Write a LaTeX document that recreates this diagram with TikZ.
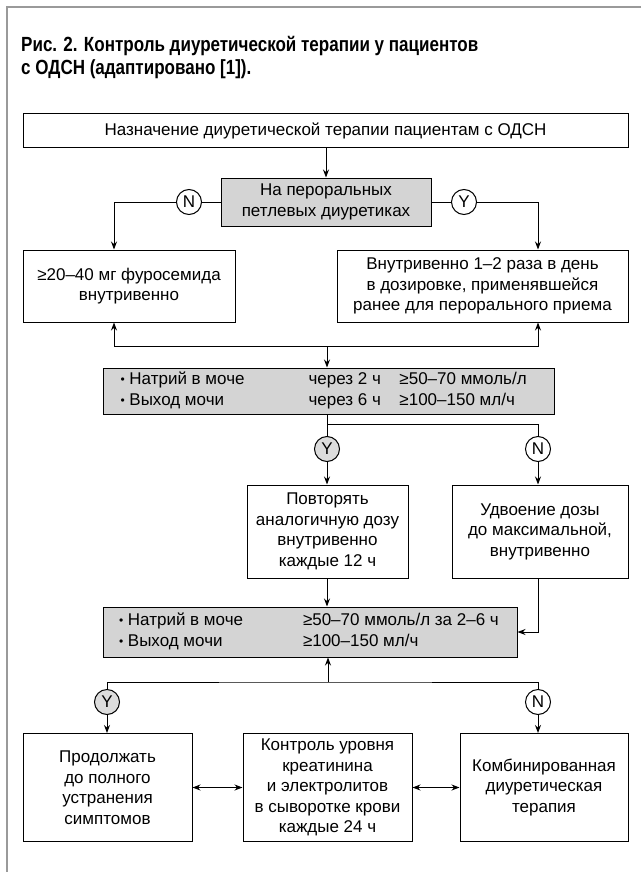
\documentclass[tikz,border=0pt]{standalone}
\usepackage{fontspec}
\setmainfont{Liberation Sans}
\newfontfamily\titlefont{Liberation Sans Bold}[FakeStretch=0.83]
\usepackage{array}
\usetikzlibrary{arrows.meta,calc}
\definecolor{boxgray}{HTML}{D4D4D4}
\definecolor{circgray}{HTML}{DCDCDC}
\definecolor{framegray}{HTML}{9A9A9A}
\tikzset{
  block/.style={
    draw,
    line width=1pt,
    inner sep=2pt,
    align=center,
    font=\fontsize{17}{20.5}\selectfont
  },
  blockgray/.style={
    block,
    fill=boxgray
  },
  yesno/.style={
    shape=circle,
    draw,
    fill=white,
    line width=1pt,
    minimum size=25pt,
    inner sep=0pt,
    font=\fontsize{17}{17}\selectfont
  },
  yesgray/.style={
    yesno,
    fill=circgray
  },
  flow/.style={
    line width=1pt,
    -{Stealth[length=8pt,width=6pt]}
  },
  flowboth/.style={
    line width=1pt,
    {Stealth[length=8pt,width=6pt]}-{Stealth[length=8pt,width=6pt]}
  },
  link/.style={
    line width=1pt
  }
}
\newcommand{\dotitem}{{\fontsize{12}{12}\selectfont\raisebox{1pt}{•}}\ }

\begin{document}
\begin{tikzpicture}[x=1pt,y=-1pt]
  \useasboundingbox (0,0) rectangle (641,872);
  % frame and title
  \draw[framegray, line width=1.5pt] (641,7) -- (7,7) -- (7,872);
  \node[anchor=base west, inner sep=0pt, align=left,
        font=\titlefont\fontsize{20.5}{23}\selectfont] (title) at (21,75)
    {Рис. 2. Контроль диуретической терапии у пациентов\\
     с ОДСН (адаптировано [1]).};

  % first level
  \node[block, minimum width=605pt, minimum height=33pt] (start) at (325.5,130.5)
    {Назначение диуретической терапии пациентам с ОДСН};
  \node[blockgray, minimum width=210pt, minimum height=48pt] (oral) at (326,202)
    {На пероральных\\петлевых диуретиках};
  \node[yesno] (nA) at (189,202) {N};
  \node[yesno] (yA) at (464,202) {Y};
  \node[block, minimum width=212pt, minimum height=72pt] (furo) at (129,286)
    {≥20–40 мг фуросемида\\внутривенно};
  \node[block, minimum width=291pt, minimum height=72pt] (ivdose) at (482.5,286)
    {Внутривенно 1–2 раза в день\\в дозировке, применявшейся\\ранее для перорального приема};
  \coordinate (join1) at (327,346);

  % second level
  \node[blockgray, minimum width=451pt, minimum height=46pt] (check1) at (328.5,391)
    {\begin{tabular}{@{}p{188pt}@{}p{91pt}@{}p{137pt}@{}}
       \dotitem Натрий в моче & через 2 ч & ≥50–70 ммоль/л\\
       \dotitem Выход мочи & через 6 ч & ≥100–150 мл/ч
     \end{tabular}};
  \coordinate (split2) at (327,424);
  \node[yesgray] (yB) at (327,449) {Y};
  \node[yesno] (nB) at (538,449) {N};
  \node[block, minimum width=161pt, minimum height=93pt] (repeat) at (327.5,531.5)
    {Повторять\\аналогичную дозу\\внутривенно\\каждые 12 ч};
  \node[block, minimum width=176pt, minimum height=93pt] (double) at (540,531.5)
    {Удвоение дозы\\до максимальной,\\внутривенно};

  % third level
  \node[blockgray, minimum width=414pt, minimum height=50pt] (check2) at (310,632)
    {\begin{tabular}{@{}p{184pt}@{}p{198pt}@{}}
       \dotitem Натрий в моче & ≥50–70 ммоль/л за 2–6 ч\\
       \dotitem Выход мочи & ≥100–150 мл/ч
     \end{tabular}};
  \coordinate (join3) at (328,682);
  \node[yesgray] (yC) at (107,702) {Y};
  \node[yesno] (nC) at (538,702) {N};
  \node[block, minimum width=169pt, minimum height=108pt] (cont) at (107.5,787.5)
    {Продолжать\\до полного\\устранения\\симптомов};
  \node[block, minimum width=169pt, minimum height=108pt] (monitor) at (327.5,787.5)
    {Контроль уровня\\креатинина\\и электролитов\\в сыворотке крови\\каждые 24 ч};
  \node[block, minimum width=168pt, minimum height=108pt] (combo) at (544,787.5)
    {Комбинированная\\диуретическая\\терапия};

  % connectors
  \draw[flow] (oral.north |- start.south) -- (oral.north);
  \draw[link] (oral.west) -- (nA);
  \draw[link] (oral.east) -- (yA);
  \draw[flow] (nA) -| ([xshift=-15pt]furo.north);
  \draw[flow] (yA) -| ([xshift=55.5pt]ivdose.north);
  \draw[flow] (join1) -| ([xshift=-15pt]furo.south);
  \draw[flow] (join1) -| ([xshift=55.5pt]ivdose.south);
  \draw[flow] (join1) -- (join1 |- check1.north);

  \draw[link] (yB |- check1.south) -- (yB);
  \draw[link] (split2) -| (nB);
  \draw[flow] (yB) -- (yB |- repeat.north);
  \draw[flow] (nB) -- (nB |- double.north);
  \draw[flow] (yB |- repeat.south) -- (yB |- check2.north);
  \draw[flow] (nB |- double.south) |- (check2.east);

  \draw[flow] (join3) -- (join3 |- check2.south);
  \draw[link] (yC) |- (join3) -| (nC);
  \draw[flow] (yC) -- (yC |- cont.north);
  \draw[flow] (nC) -- (nC |- combo.north);
  \draw[flowboth] (cont.east) -- (monitor.west);
  \draw[flowboth] (monitor.east) -- (combo.west);
\end{tikzpicture}
\end{document}
